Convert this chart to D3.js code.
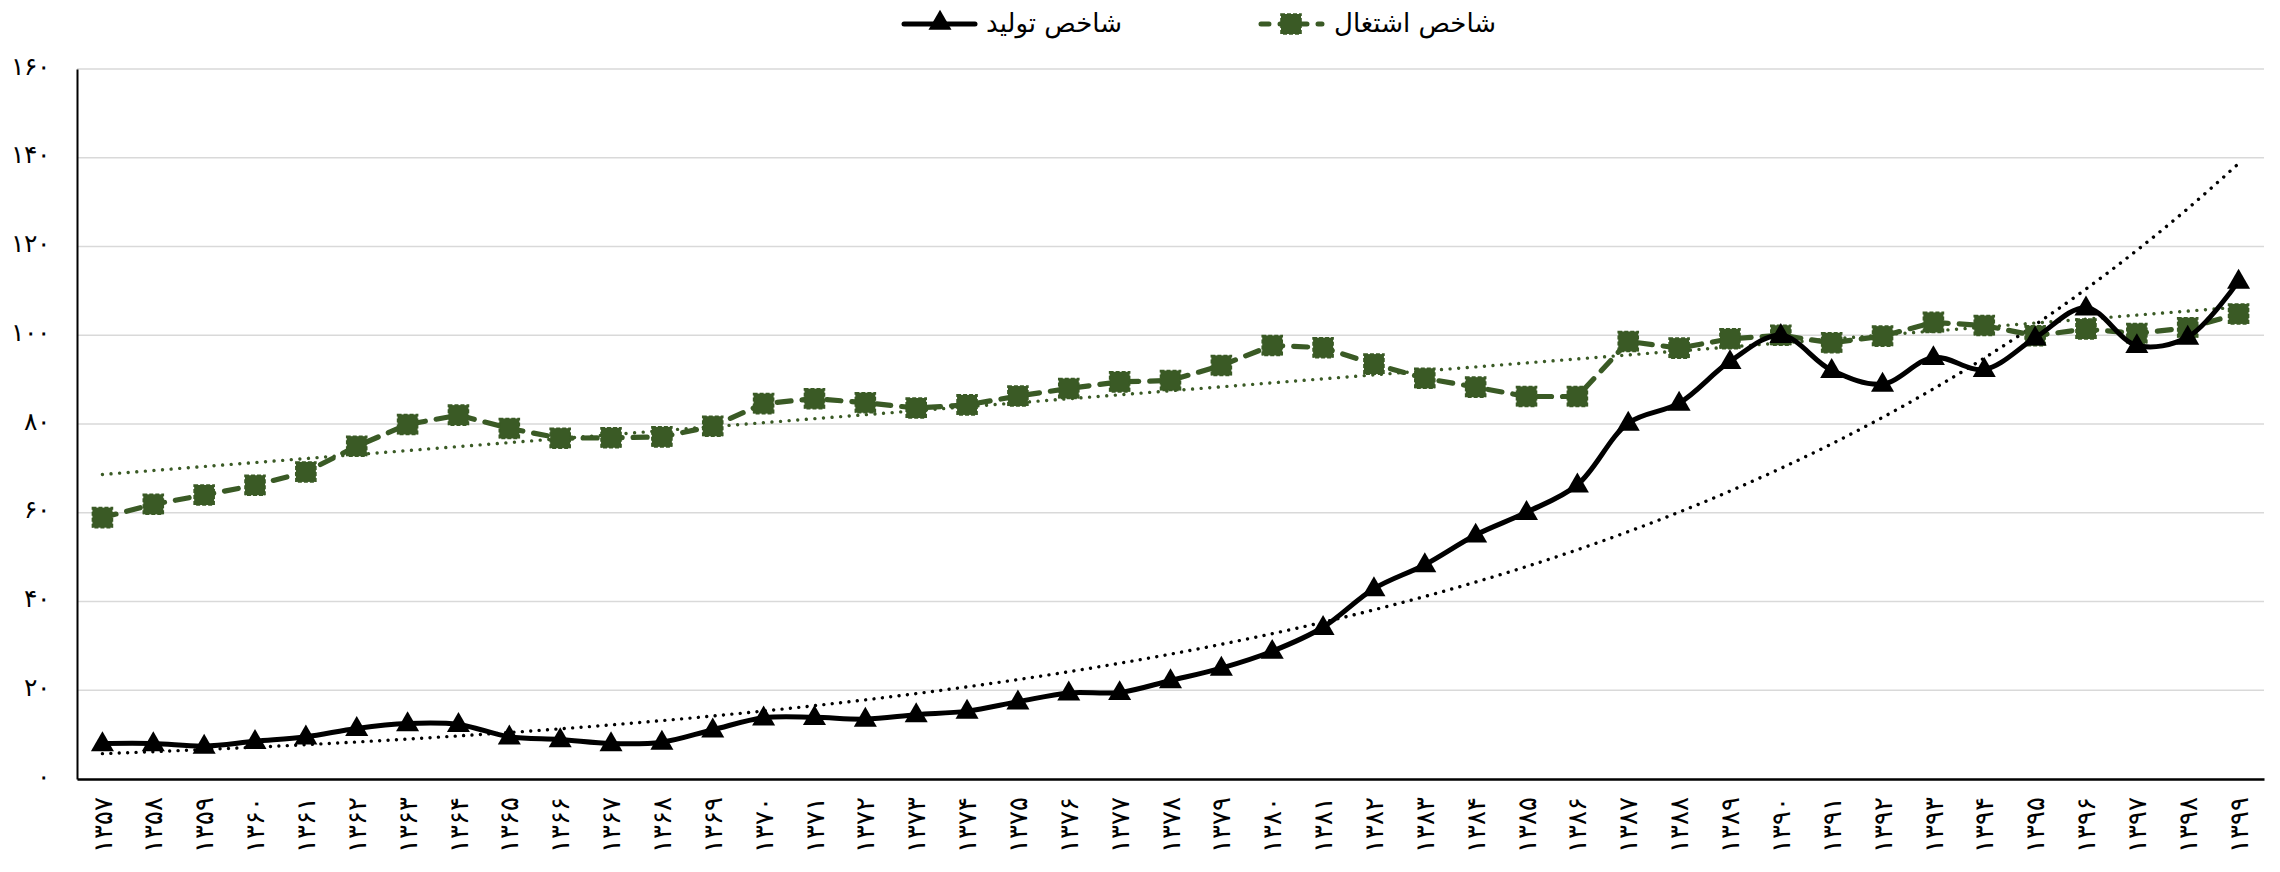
<!DOCTYPE html>
<html lang="fa">
<head>
<meta charset="UTF-8">
<title>شاخص تولید و شاخص اشتغال</title>
<style>
    body { margin: 0; background: #fff; }
    svg { display: block; font-family: "DejaVu Sans", sans-serif; }
    .grid line { stroke: #d9d9d9; stroke-width: 1.7; }
    .y-label { font-size: 25px; fill: #000; }
    .x-label { font-size: 26px; fill: #000; }
    .legend text { font-size: 26px; fill: #000; }
</style>
</head>
<body>
<div id="chart"></div>
<script src="https://d3js.org/d3.v7.min.js"></script>
<script>
// سال‌ها (محور افقی)
var years = ["۱۳۵۷", "۱۳۵۸", "۱۳۵۹", "۱۳۶۰", "۱۳۶۱", "۱۳۶۲", "۱۳۶۳", "۱۳۶۴", "۱۳۶۵",
    "۱۳۶۶", "۱۳۶۷", "۱۳۶۸", "۱۳۶۹", "۱۳۷۰", "۱۳۷۱", "۱۳۷۲", "۱۳۷۳", "۱۳۷۴",
    "۱۳۷۵", "۱۳۷۶", "۱۳۷۷", "۱۳۷۸", "۱۳۷۹", "۱۳۸۰", "۱۳۸۱", "۱۳۸۲", "۱۳۸۳",
    "۱۳۸۴", "۱۳۸۵", "۱۳۸۶", "۱۳۸۷", "۱۳۸۸", "۱۳۸۹", "۱۳۹۰", "۱۳۹۱", "۱۳۹۲",
    "۱۳۹۳", "۱۳۹۴", "۱۳۹۵", "۱۳۹۶", "۱۳۹۷", "۱۳۹۸", "۱۳۹۹"];

// شاخص تولید
var production = [8.0, 8.0, 7.4, 8.5, 9.5, 11.4, 12.5, 12.3, 9.5,
    8.9, 8.0, 8.3, 11.1, 13.8, 13.9, 13.5, 14.5, 15.3,
    17.4, 19.4, 19.5, 22.2, 25.0, 28.8, 34.2, 42.9, 48.3,
    55.0, 60.1, 66.3, 80.2, 84.7, 94.1, 100, 92.1, 89.0,
    95.0, 92.3, 99.4, 106.2, 97.7, 99.6, 112.2];

// شاخص اشتغال
var employment = [58.9, 61.9, 64.0, 66.2, 69.2, 75.0, 79.9, 82.0, 79.0,
    76.8, 76.9, 77.1, 79.5, 84.6, 85.7, 84.8, 83.6, 84.3,
    86.3, 88.0, 89.5, 89.8, 93.2, 97.7, 97.2, 93.5, 90.3,
    88.3, 86.2, 86.2, 98.6, 97.1, 99.2, 100, 98.3, 99.8,
    102.9, 102.2, 99.9, 101.4, 100.4, 101.7, 104.8];

var yTicks = [0, 20, 40, 60, 80, 100, 120, 140, 160];
var yTickLabels = ["۰", "۲۰", "۴۰", "۶۰", "۸۰", "۱۰۰", "۱۲۰", "۱۴۰", "۱۶۰"];
var seriesNames = ["شاخص تولید", "شاخص اشتغال"];

var W = 2280, H = 872;
var plotLeft = 77, plotRight = 2264, plotTop = 69, plotBottom = 779;
var green = "#3a5a25";

var svg = d3.select("#chart").append("svg")
    .attr("width", W)
    .attr("height", H);

var x = d3.scaleBand().domain(years).range([plotLeft, plotRight]).padding(0);
var y = d3.scaleLinear().domain([0, 160]).range([plotBottom, plotTop]);
function cx(i) { return x(years[i]) + x.bandwidth() / 2; }

// خطوط راهنما
svg.append("g").attr("class", "grid")
    .selectAll("line")
    .data(yTicks.filter(function (d) { return d > 0; }))
    .enter().append("line")
    .attr("x1", plotLeft).attr("x2", plotRight)
    .attr("y1", function (d) { return y(d); })
    .attr("y2", function (d) { return y(d); });

// محور عمودی
var yAxis = svg.append("g")
    .attr("transform", "translate(" + plotLeft + ",0)")
    .call(d3.axisLeft(y).tickValues(yTicks).tickSize(0).tickPadding(27)
        .tickFormat(function (d, i) { return yTickLabels[i]; }));
yAxis.select(".domain").attr("stroke", "#000").attr("stroke-width", 2);
yAxis.selectAll("text").attr("class", "y-label")
    .attr("font-family", null).attr("font-size", null)
    .attr("dy", "0.2em");

// محور افقی
var xAxis = svg.append("g")
    .attr("transform", "translate(0," + plotBottom + ")")
    .call(d3.axisBottom(x).tickSize(0));
xAxis.select(".domain").attr("stroke", "#000").attr("stroke-width", 2.5);
xAxis.selectAll("text").attr("class", "x-label")
    .attr("font-family", null).attr("font-size", null)
    .attr("transform", "rotate(-90)")
    .attr("text-anchor", "end")
    .attr("x", -18)
    .attr("y", 0)
    .attr("dy", "0.35em");

// خطوط روند: نمایی برای تولید، خطی برای اشتغال
function linearFit(vals) {
    var n = vals.length, sx = 0, sy = 0, sxx = 0, sxy = 0;
    vals.forEach(function (v, i) { var t = i + 1; sx += t; sy += v; sxx += t * t; sxy += t * v; });
    var b = (n * sxy - sx * sy) / (n * sxx - sx * sx);
    var a = (sy - b * sx) / n;
    return function (t) { return a + b * t; };
}
var expLn = linearFit(production.map(Math.log));
var prodTrend = production.map(function (v, i) { return Math.exp(expLn(i + 1)); });
var empLin = linearFit(employment);
var empTrend = employment.map(function (v, i) { return empLin(i + 1); });

var plainLine = d3.line()
    .x(function (d, i) { return cx(i); })
    .y(function (d) { return y(d); });

svg.append("path").datum(prodTrend)
    .attr("d", plainLine.curve(d3.curveMonotoneX))
    .attr("fill", "none").attr("stroke", "#000")
    .attr("stroke-width", 3.4).attr("stroke-linecap", "round")
    .attr("stroke-dasharray", "0.01 8.4");

svg.append("path").datum(empTrend)
    .attr("d", plainLine.curve(d3.curveLinear))
    .attr("fill", "none").attr("stroke", green)
    .attr("stroke-width", 3.4).attr("stroke-linecap", "round")
    .attr("stroke-dasharray", "0.01 8.6");

// سری اشتغال
svg.append("path").datum(employment)
    .attr("d", plainLine.curve(d3.curveLinear))
    .attr("fill", "none").attr("stroke", green)
    .attr("stroke-width", 5.2).attr("stroke-linecap", "round")
    .attr("stroke-dasharray", "14 11");

svg.append("g").selectAll("rect")
    .data(employment)
    .enter().append("rect")
    .attr("x", function (d, i) { return cx(i) - 10; })
    .attr("y", function (d) { return y(d) - 10; })
    .attr("width", 20).attr("height", 20)
    .attr("fill", green).attr("stroke", green)
    .attr("stroke-width", 1.6).attr("stroke-dasharray", "4 2");

// سری تولید
svg.append("path").datum(production)
    .attr("d", plainLine.curve(d3.curveCatmullRom.alpha(0.5)))
    .attr("fill", "none").attr("stroke", "#000")
    .attr("stroke-width", 5).attr("stroke-linejoin", "round");

var tri = d3.symbol().type(d3.symbolTriangle).size(230);
svg.append("g").selectAll("path")
    .data(production)
    .enter().append("path")
    .attr("d", tri)
    .attr("transform", function (d, i) { return "translate(" + cx(i) + "," + (y(d) + 1) + ")"; })
    .attr("fill", "#000");

// راهنما
var legend = svg.append("g").attr("class", "legend");
var ly = 24;
legend.append("line")
    .attr("x1", 904).attr("x2", 975).attr("y1", ly).attr("y2", ly)
    .attr("stroke", "#000").attr("stroke-width", 5).attr("stroke-linecap", "round");
legend.append("path").attr("d", tri)
    .attr("transform", "translate(940," + (ly - 1) + ")").attr("fill", "#000");
legend.append("text").attr("x", 986).attr("y", ly).attr("dy", "0.3em")
    .text(seriesNames[0]);

legend.append("line")
    .attr("x1", 1261).attr("x2", 1322).attr("y1", ly).attr("y2", ly)
    .attr("stroke", green).attr("stroke-width", 5).attr("stroke-linecap", "round")
    .attr("stroke-dasharray", "8 11");
legend.append("rect")
    .attr("x", 1281).attr("y", ly - 10).attr("width", 20).attr("height", 20)
    .attr("fill", green).attr("stroke", green)
    .attr("stroke-width", 1.6).attr("stroke-dasharray", "4 2");
legend.append("text").attr("x", 1334).attr("y", ly).attr("dy", "0.3em")
    .text(seriesNames[1]);
</script>
</body>
</html>
